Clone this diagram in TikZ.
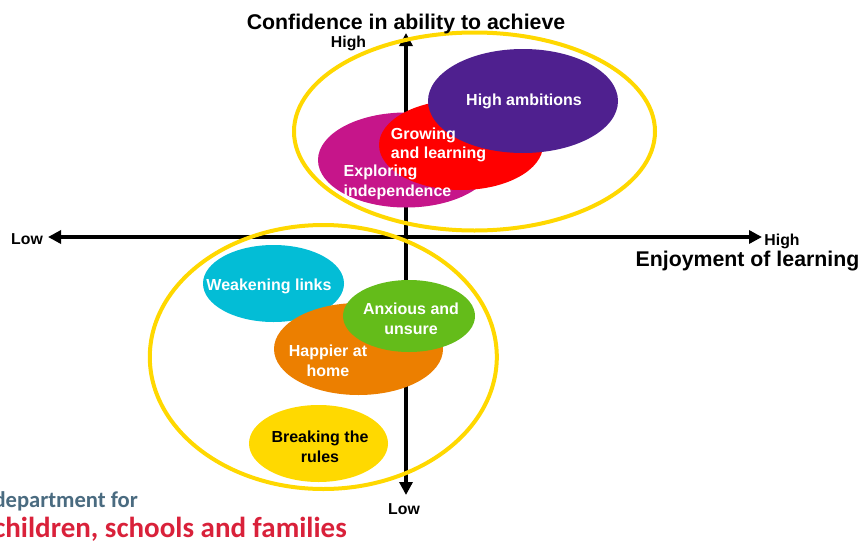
\documentclass[tikz,border=0pt]{standalone}
\usepackage{fontspec}
\setmainfont{Liberation Sans}
\newfontfamily\logofont{Carlito}
\usetikzlibrary{shapes.geometric,arrows.meta}
\definecolor{ringyellow}{HTML}{FFD800}
\definecolor{ambitionpurple}{HTML}{4F208F}
\definecolor{explorepink}{HTML}{C6158A}
\definecolor{linkscyan}{HTML}{03BDD6}
\definecolor{homeorange}{HTML}{EC7F00}
\definecolor{anxiousgreen}{HTML}{64BC1A}
\definecolor{rulesyellow}{HTML}{FFD900}
\definecolor{logoslate}{HTML}{4A6B80}
\definecolor{logored}{HTML}{D9213A}
\tikzset{
      axisedge/.style = {black, line width=3.6pt, {Triangle[width=13pt,length=13pt]}-{Triangle[width=13pt,length=13pt]}},
      blob/.style args={#1 size #2 and #3}{ellipse, fill=#1, inner sep=0pt, outer sep=0pt,
        minimum width=#2pt, minimum height=#3pt},
      ring/.style args={#1 and #2}{ellipse, draw=ringyellow, line width=4pt, inner sep=0pt,
        outer sep=0pt, minimum width=#1pt, minimum height=#2pt},
      blobtext/.style = {white, font=\bfseries\fontsize{16}{19.5}\selectfont, align=center},
      axislabel/.style = {black, anchor=base, font=\bfseries\fontsize{15.8}{19}\selectfont},
      axistitle/.style = {black, anchor=base, font=\bfseries\fontsize{21.3}{25}\selectfont},
    }
\begin{document}
\begin{tikzpicture}[x=1pt,y=-1pt]
        \useasboundingbox (0,0) rectangle (862,541);
        \coordinate (west)  at (48,237);
        \coordinate (east)  at (762,237);
        \coordinate (north) at (406,33);
        \coordinate (south) at (406,495);
        \draw [axisedge] (west) -- (east);
        \draw [axisedge] (south) -- (north);

        \node [blob=explorepink size 176 and 95] (exploring) at (406,160) {};
        \node [blob=red size 164 and 90] (growing) at (461,145) {};
        \node [blob=ambitionpurple size 190 and 104] (ambitions) at (523,101) {};
        \node [blob=linkscyan size 141 and 77] (links) at (273.5,283.5) {};
        \node [blob=homeorange size 169 and 92] (home) at (358.5,349) {};
        \node [blob=anxiousgreen size 132 and 72] (anxious) at (409,316) {};
        \node [blob=rulesyellow size 139 and 77] (rules) at (318.5,443.5) {};

        \node [ring=361 and 198] (upperring) at (474.5,131.5) {};
        \node [ring=347 and 264] (lowerring) at (323.3,357) {};

        \node [blobtext] (ambitionstext) at (524,101) {High ambitions};
        \node [blobtext, align=left] (growingtext) at (438.5,145) {Growing\\and learning};
        \node [blobtext, align=left] (exploringtext) at (397.5,182.5) {Exploring\\independence};
        \node [blobtext] (linkstext) at (269,286.5) {Weakening links};
        \node [blobtext] (anxioustext) at (411,319) {Anxious and\\unsure};
        \node [blobtext] (hometext) at (328,361) {Happier at\\home};
        \node [blobtext, black] (rulestext) at (320,447) {Breaking the\\rules};

        \node [axistitle] (ytitle) at (406,29) {Confidence in ability to achieve};
        \node [axistitle] (xtitle) at (747.5,266) {Enjoyment of learning};
        \node [axislabel] (yhigh) at (348.5,47) {High};
        \node [axislabel] (ylow) at (404,514) {Low};
        \node [axislabel] (xlow) at (27,244) {Low};
        \node [axislabel] (xhigh) at (782,245) {High};

        \node [anchor=base east, inner sep=0pt, text=logoslate, font=\logofont\bfseries\fontsize{22.6}{25}\selectfont] (logotop) at (138,507) {department for};
        \node [anchor=base east, inner sep=0pt, text=logored, font=\logofont\bfseries\fontsize{29}{32}\selectfont] (logobottom) at (347,537) {children, schools and families};
    \end{tikzpicture}
\end{document}
